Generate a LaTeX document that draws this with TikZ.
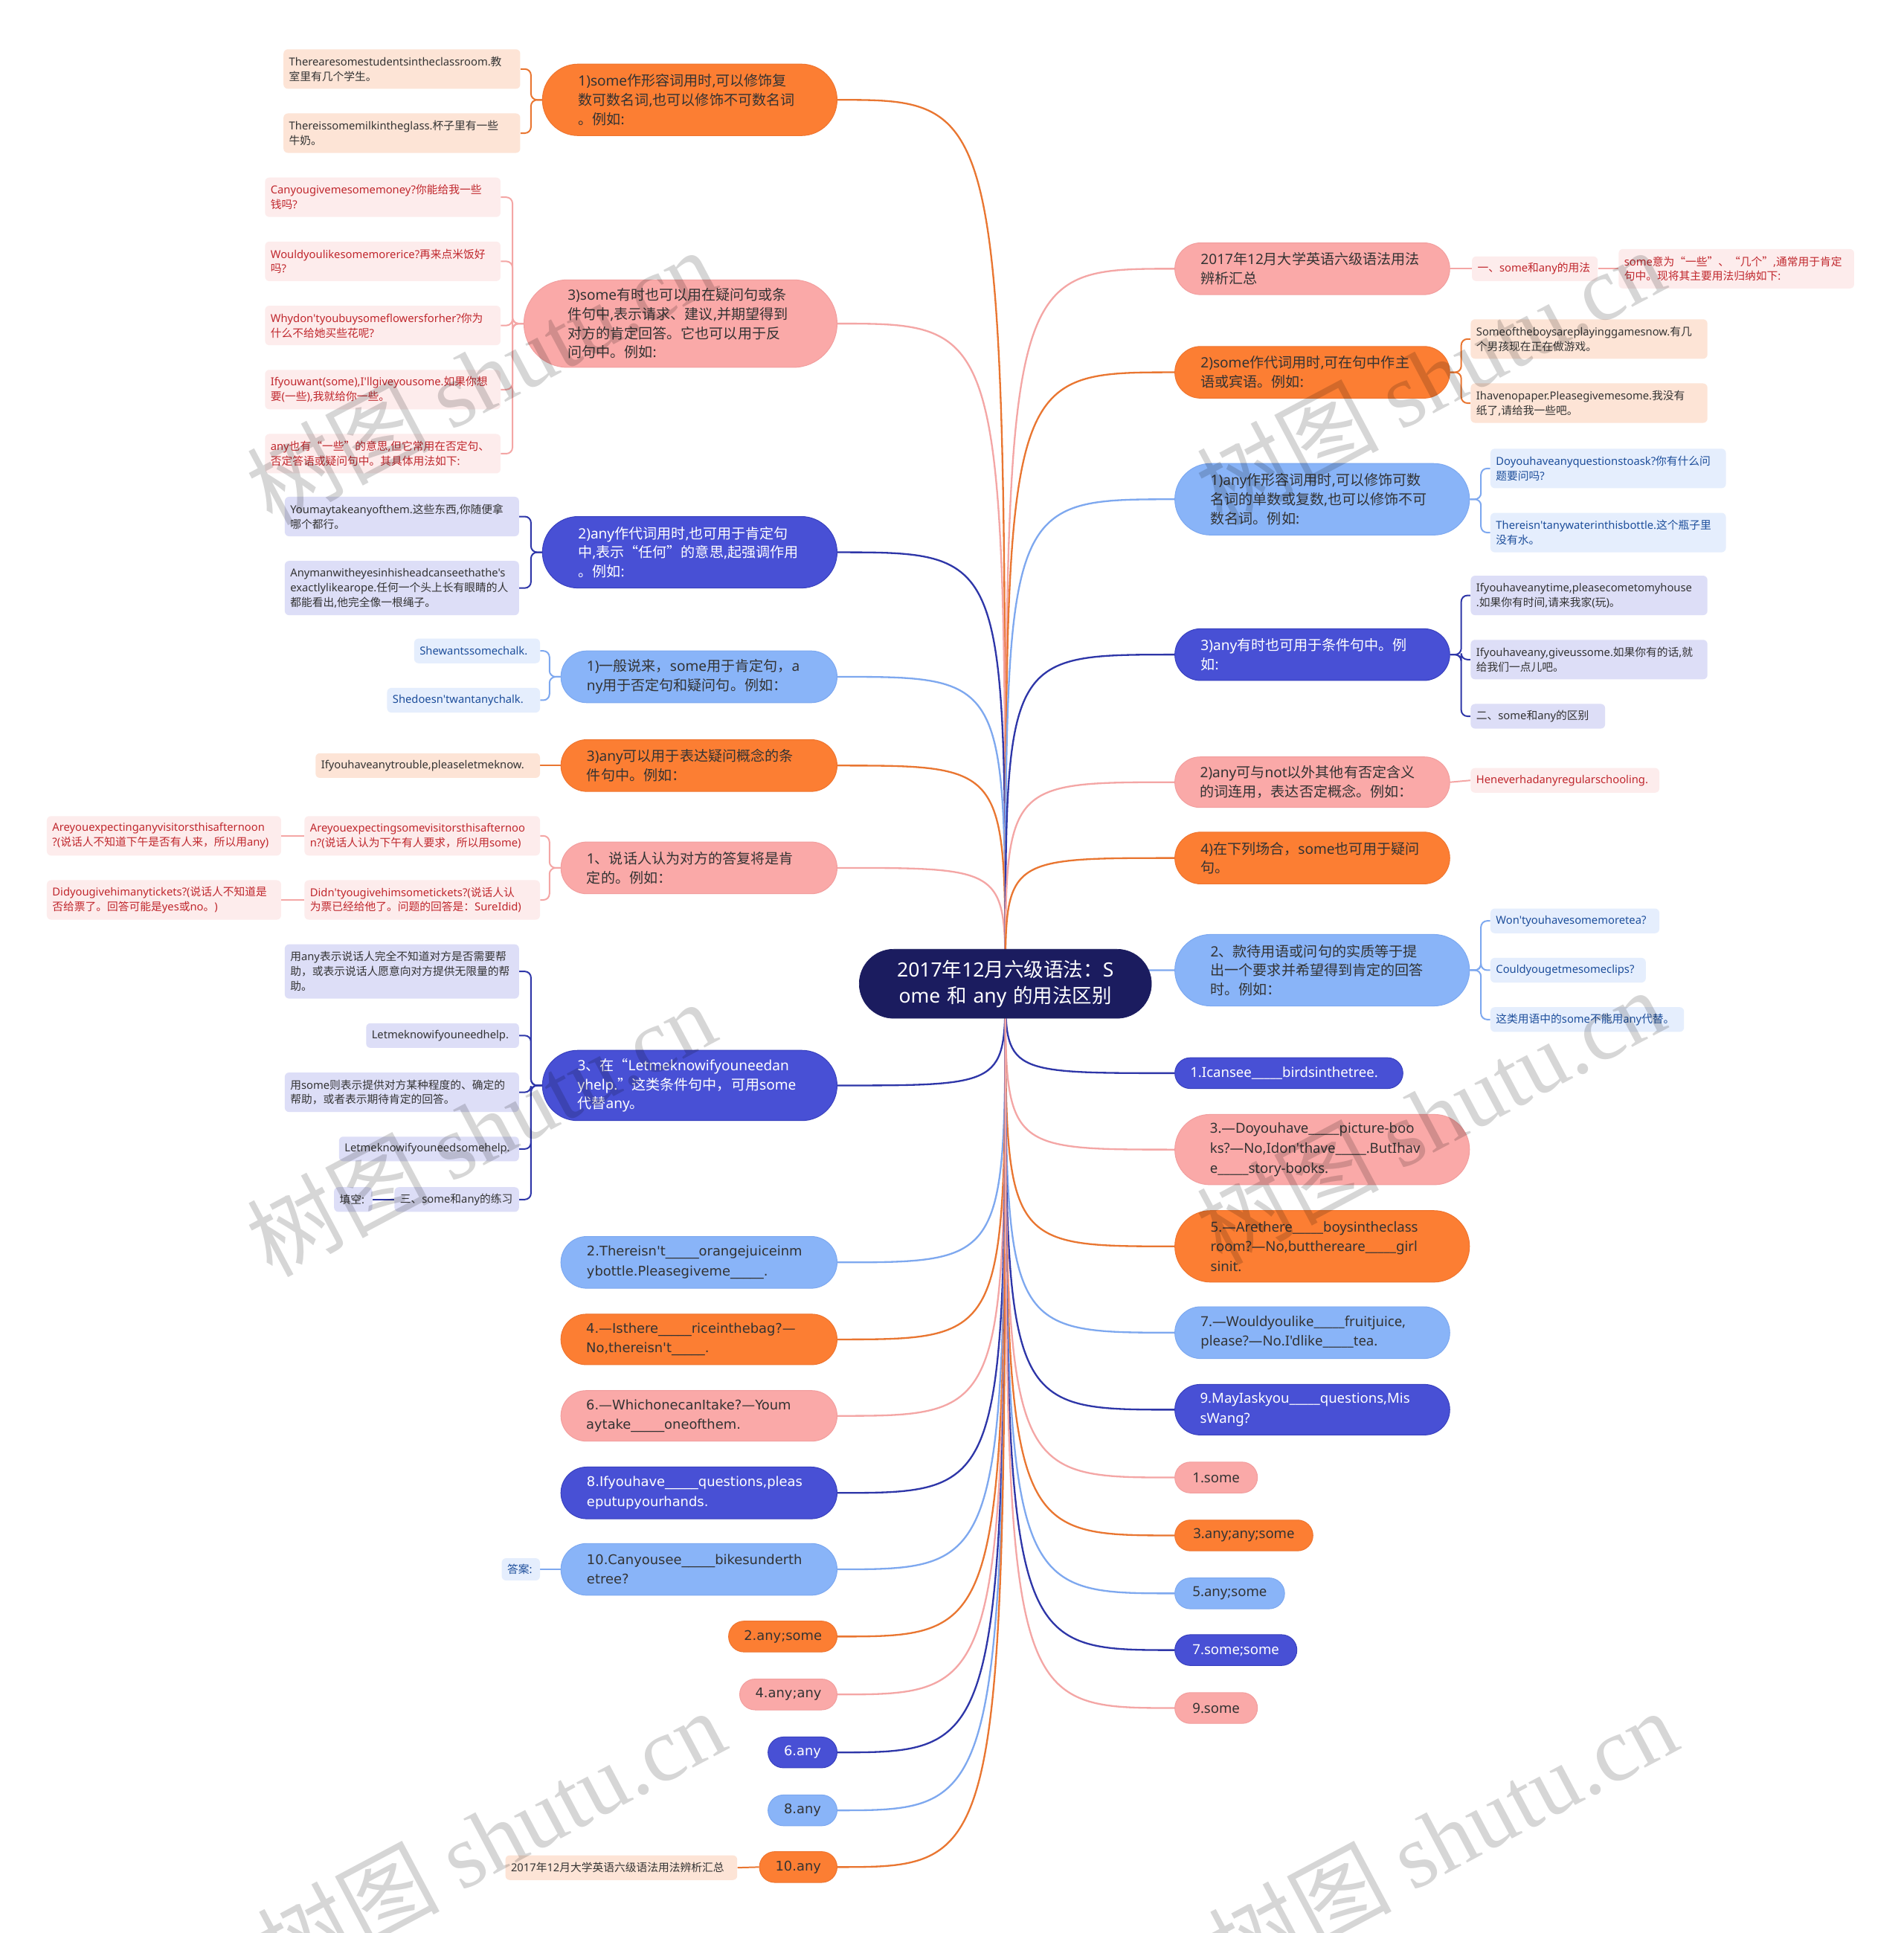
\documentclass[tikz,border=0pt]{standalone}
\usepackage{fontspec}
\setmainfont{Noto Sans CJK SC}
\newfontfamily\cjkf{Noto Sans CJK SC}
\newfontfamily\latf{Noto Sans}
\newfontfamily\verdf{DejaVu Sans}
\newfontfamily\wmf{Liberation Serif}
\usetikzlibrary{calc}
\hyphenpenalty=10000
\exhyphenpenalty=10000
\newcount\cjkc
\cjkc="4E00
\loop\XeTeXcharclass\cjkc=1 \advance\cjkc by 1 \ifnum\cjkc<"A000 \repeat
\XeTeXcharclass"3001=3
\XeTeXcharclass"3002=3
\XeTeXcharclass"FF0C=3
\XeTeXcharclass"FF1A=3
\XeTeXcharclass"201C=2
\XeTeXcharclass"201D=3
\XeTeXinterchartokenstate=1
\XeTeXinterchartoks 0 1 = {\cjkf}
\XeTeXinterchartoks 0 2 = {\cjkf}
\XeTeXinterchartoks 0 3 = {\cjkf}
\XeTeXinterchartoks 4095 1 = {\cjkf}
\XeTeXinterchartoks 4095 2 = {\cjkf}
\XeTeXinterchartoks 4095 3 = {\cjkf}
\XeTeXinterchartoks 1 0 = {\latf}
\XeTeXinterchartoks 2 0 = {\latf}
\XeTeXinterchartoks 3 0 = {\latf}
\XeTeXinterchartoks 4095 0 = {\latf}

\definecolor{cOr}{HTML}{FC7E33}
\definecolor{cOrD}{HTML}{EE7530}
\definecolor{lOr}{HTML}{E97631}
\definecolor{cPk}{HTML}{FAA9A8}
\definecolor{cPkD}{HTML}{F29E9E}
\definecolor{lPk}{HTML}{F4A6A5}
\definecolor{cLb}{HTML}{89B4F8}
\definecolor{cLbD}{HTML}{7CA8F0}
\definecolor{lLb}{HTML}{7EA8EF}
\definecolor{cDb}{HTML}{4850D5}
\definecolor{cDbD}{HTML}{3840BE}
\definecolor{lDb}{HTML}{2E36A8}
\definecolor{cCt}{HTML}{1B1C5F}
\definecolor{fOr}{HTML}{FDE4D6}
\definecolor{fPk}{HTML}{FDECEC}
\definecolor{fLb}{HTML}{E5EEFD}
\definecolor{fDb}{HTML}{DDDEF7}
\definecolor{tPk}{HTML}{C0272D}
\definecolor{tLb}{HTML}{1D4E9B}
\definecolor{tDk}{HTML}{333333}

\newcommand\fMain{\fontsize{11.5pt}{15.5pt}\selectfont}
\newcommand\fCtr{\fontsize{16pt}{21pt}\selectfont}
\newcommand\fLeaf{\fontsize{8.9pt}{12pt}\selectfont}
\newcommand\fExL{\XeTeXinterchartokenstate=0 \verdf\fontsize{10.8pt}{16pt}\selectfont}
\newcommand\fExR{\XeTeXinterchartokenstate=0 \latf\fontsize{11.2pt}{16pt}\selectfont}
\newcommand\fWm{\XeTeXinterchartokenstate=0 \fontsize{74pt}{74pt}\selectfont}
\newcommand\myblank{\_\_\_\_\_}

\pgfdeclarelayer{bg}
\pgfdeclarelayer{fg}
\pgfsetlayers{bg,main,fg}

\tikzset{
 pbase/.style={align=left, text=tDk, font=\fMain},
 por/.style={fill=cOr, draw=cOrD, line width=0.6pt},
 ppk/.style={fill=cPk, draw=cPkD, line width=0.6pt},
 plb/.style={fill=cLb, draw=cLbD, line width=0.6pt},
 pdb/.style={fill=cDb, draw=cDbD, line width=0.6pt, text=white},
 ctr/.style={fill=cCt, draw=cCt, text=white, align=center, font=\fCtr},
 exl/.style={font=\fExL},
 exr/.style={font=\fExR},
 small/.style={align=center},
 lbase/.style={align=left, font=\fLeaf},
 lor/.style={fill=fOr, text=tDk},
 lpk/.style={fill=fPk, text=tPk},
 llb/.style={fill=fLb, text=tLb},
 ldb/.style={fill=fDb, text=tDk},
 conn/.style={line width=1.4pt},
 bk/.style={line width=1.2pt, rounded corners=5pt},
 wm/.style={rotate=28, text=black, text opacity=0.16, font=\fWm, inner sep=0pt},
}

% pill node: name, x1, y1, x2, y2, style, text
\newcommand\pilln[7]{%
 \pgfmathsetmacro\pnw{#4-#2}\pgfmathsetmacro\pnh{#5-#3}%
 \pgfmathsetmacro\pnr{\pnh/2}\pgfmathsetmacro\pnt{\pnw-\pnh}%
 \node[pbase, #6, minimum width=\pnw pt, minimum height=\pnh pt, rounded corners=\pnr pt, inner xsep=\pnr pt, inner ysep=0pt, text width=\pnt pt] (#1) at ({(#2+#4)/2},{(#3+#5)/2}) {#7};}
% leaf node
\newcommand\leafn[7]{%
 \pgfmathsetmacro\pnw{#4-#2}\pgfmathsetmacro\pnh{#5-#3}\pgfmathsetmacro\pnt{\pnw-9}%
 \node[lbase, #6, minimum width=\pnw pt, minimum height=\pnh pt, rounded corners=3.5pt, inner xsep=4.5pt, inner ysep=0pt, text width=\pnt pt] (#1) at ({(#2+#4)/2},{(#3+#5)/2}) {#7};}

\begin{document}
\begin{tikzpicture}[x=1pt,y=-1pt]
\begin{pgfonlayer}{bg}
\fill[white] (0,0) rectangle (1544,1568);
\end{pgfonlayer}
\useasboundingbox (0,0) rectangle (1544,1568);

% center
\pilln{c}{697}{770}{934}{826}{ctr}{2017年12月六级语法：S\\ome 和 any 的用法区别}

% left main nodes
\pilln{L1}{440}{52}{679}{110}{por}{1)some作形容词用时,可以修饰复\\数可数名词,也可以修饰不可数名词\\。例如:}
\pilln{L2}{425}{227}{679}{298}{ppk}{3)some有时也可以用在疑问句或条\\件句中,表示请求、建议,并期望得到\\对方的肯定回答。它也可以用于反\\问句中。例如:}
\pilln{L3}{440}{419}{679}{477}{pdb}{2)any作代词用时,也可用于肯定句\\中,表示“任何”的意思,起强调作用\\。例如:}
\pilln{L4}{455}{528}{679}{570}{plb}{1)一般说来，some用于肯定句，a\\ny用于否定句和疑问句。例如：}
\pilln{L5}{455}{600}{679}{642}{por}{3)any可以用于表达疑问概念的条\\件句中。例如：}
\pilln{L6}{455}{683}{679}{725}{ppk}{1、说话人认为对方的答复将是肯\\定的。例如：}
\pilln{L7}{440}{852}{679}{909}{pdb}{3、在“Letmeknowifyouneedan\\yhelp.”这类条件句中，可用some\\代替any。}
\pilln{L8}{455}{1003}{679}{1045}{plb,exl}{2.Thereisn't\myblank orangejuiceinm\\ybottle.Pleasegiveme\myblank.}
\pilln{L9}{455}{1066}{679}{1107}{por,exl}{4.—Isthere\myblank riceinthebag?—\\No,thereisn't\myblank.}
\pilln{L10}{455}{1128}{679}{1169}{ppk,exl}{6.—WhichonecanItake?—Youm\\aytake\myblank oneofthem.}
\pilln{L11}{455}{1190}{679}{1232}{pdb,exl}{8.Ifyouhave\myblank questions,pleas\\eputupyourhands.}
\pilln{L12}{455}{1252}{679}{1294}{plb,exl}{10.Canyousee\myblank bikesunderth\\etree?}
\pilln{L13}{591}{1315}{679}{1340}{por,exl,small}{2.any;some}
\pilln{L14}{600}{1362}{679}{1387}{ppk,exl,small}{4.any;any}
\pilln{L15}{623}{1409}{679}{1434}{pdb,exl,small}{6.any}
\pilln{L16}{623}{1456}{679}{1481}{plb,exl,small}{8.any}
\pilln{L17}{616}{1502}{679}{1527}{por,exl,small}{10.any}

% right main nodes
\pilln{R1}{953}{197}{1176}{239}{ppk}{2017年12月大学英语六级语法用法\\辨析汇总}
\pilln{R2}{953}{281}{1176}{323}{por}{2)some作代词用时,可在句中作主\\语或宾语。例如:}
\pilln{R3}{953}{376}{1192}{434}{plb}{1)any作形容词用时,可以修饰可数\\名词的单数或复数,也可以修饰不可\\数名词。例如:}
\pilln{R4}{953}{510}{1176}{552}{pdb}{3)any有时也可用于条件句中。例\\如:}
\pilln{R5}{953}{614}{1176}{655}{ppk}{2)any可与not以外其他有否定含义\\的词连用，表达否定概念。例如：}
\pilln{R6}{953}{675}{1176}{717}{por}{4)在下列场合，some也可用于疑问\\句。}
\pilln{R7}{953}{758}{1192}{816}{plb}{2、款待用语或问句的实质等于提\\出一个要求并希望得到肯定的回答\\时。例如：}
\pilln{R8}{953}{858}{1138}{883}{pdb,exr}{1.Icansee\myblank birdsinthetree.}
\pilln{R9}{953}{904}{1192}{961}{ppk,exr}{3.—Doyouhave\myblank picture-boo\\ks?—No,Idon'thave\myblank.ButIhav\\e\myblank story-books.}
\pilln{R10}{953}{982}{1192}{1040}{por,exr}{5.—Arethere\myblank boysintheclass\\room?—No,butthereare\myblank girl\\sinit.}
\pilln{R11}{953}{1060}{1176}{1102}{plb,exr}{7.—Wouldyoulike\myblank fruitjuice,\\please?—No.I'dlike\myblank tea.}
\pilln{R12}{953}{1123}{1176}{1164}{pdb,exr}{9.MayIaskyou\myblank questions,Mis\\sWang?}
\pilln{R13}{953}{1186}{1020}{1211}{ppk,exr,small}{1.some}
\pilln{R14}{953}{1233}{1065}{1258}{por,exr,small}{3.any;any;some}
\pilln{R15}{953}{1280}{1042}{1305}{plb,exr,small}{5.any;some}
\pilln{R16}{953}{1326}{1052}{1351}{pdb,exr,small}{7.some;some}
\pilln{R17}{953}{1373}{1020}{1398}{ppk,exr,small}{9.some}

% left leaves
\leafn{L1a}{230}{40}{422}{72}{lor}{Therearesomestudentsintheclassroom.教\\室里有几个学生。}
\leafn{L1b}{230}{92}{422}{124}{lor}{Thereissomemilkintheglass.杯子里有一些\\牛奶。}
\leafn{L2a}{215}{144}{406}{176}{lpk}{Canyougivemesomemoney?你能给我一些\\钱吗?}
\leafn{L2b}{215}{196}{406}{228}{lpk}{Wouldyoulikesomemorerice?再来点米饭好\\吗?}
\leafn{L2c}{215}{248}{406}{280}{lpk}{Whydon'tyoubuysomeflowersforher?你为\\什么不给她买些花呢?}
\leafn{L2d}{215}{300}{406}{332}{lpk}{Ifyouwant(some),I'llgiveyousome.如果你想\\要(一些),我就给你一些。}
\leafn{L2e}{215}{352}{406}{384}{lpk}{any也有“一些”的意思,但它常用在否定句、\\否定答语或疑问句中。其具体用法如下:}
\leafn{L3a}{231}{403}{421}{435}{ldb}{Youmaytakeanyofthem.这些东西,你随便拿\\哪个都行。}
\leafn{L3b}{231}{455}{421}{499}{ldb}{Anymanwitheyesinhisheadcanseethathe's\\exactlylikearope.任何一个头上长有眼睛的人\\都能看出,他完全像一根绳子。}
\leafn{L4a}{336}{518}{438}{538}{llb}{Shewantssomechalk.}
\leafn{L4b}{314}{558}{438}{578}{llb}{Shedoesn'twantanychalk.}
\leafn{L5a}{256}{611}{438}{631}{lor}{Ifyouhaveanytrouble,pleaseletmeknow.}
\leafn{L6a}{247}{662}{438}{694}{lpk}{Areyouexpectingsomevisitorsthisafternoo\\n?(说话人认为下午有人要求，所以用some)}
\leafn{L6b}{247}{714}{438}{746}{lpk}{Didn'tyougivehimsometickets?(说话人认\\为票已经给他了。问题的回答是：SureIdid)}
\leafn{L6c}{38}{662}{228}{694}{lpk}{Areyouexpectinganyvisitorsthisafternoon\\?(说话人不知道下午是否有人来，所以用any)}
\leafn{L6d}{38}{714}{228}{746}{lpk}{Didyougivehimanytickets?(说话人不知道是\\否给票了。回答可能是yes或no。)}
\leafn{L7a}{231}{766}{421}{810}{ldb}{用any表示说话人完全不知道对方是否需要帮\\助，或表示说话人愿意向对方提供无限量的帮\\助。}
\leafn{L7b}{297}{830}{421}{850}{ldb}{Letmeknowifyouneedhelp.}
\leafn{L7c}{231}{870}{421}{902}{ldb}{用some则表示提供对方某种程度的、确定的\\帮助，或者表示期待肯定的回答。}
\leafn{L7d}{275}{922}{421}{942}{ldb}{Letmeknowifyouneedsomehelp.}
\leafn{L7e}{320}{963}{421}{983}{ldb}{三、some和any的练习}
\leafn{L7f}{271}{963}{302}{983}{ldb}{填空:}
\leafn{L12a}{407}{1264}{438}{1282}{llb}{答案:}
\leafn{L17a}{410}{1505}{598}{1525}{lor}{2017年12月大学英语六级语法用法辨析汇总}

% right leaves
\leafn{R1a}{1194}{208}{1296}{228}{lpk}{一、some和any的用法}
\leafn{R1b}{1313}{202}{1504}{234}{lpk}{some意为“一些”、“几个”,通常用于肯定\\句中。现将其主要用法归纳如下:}
\leafn{R2a}{1193}{259}{1385}{291}{lor}{Someoftheboysareplayinggamesnow.有几\\个男孩现在正在做游戏。}
\leafn{R2b}{1193}{311}{1385}{343}{lor}{Ihavenopaper.Pleasegivemesome.我没有\\纸了,请给我一些吧。}
\leafn{R3a}{1209}{364}{1400}{396}{llb}{Doyouhaveanyquestionstoask?你有什么问\\题要问吗?}
\leafn{R3b}{1209}{416}{1400}{448}{llb}{Thereisn'tanywaterinthisbottle.这个瓶子里\\没有水。}
\leafn{R4a}{1193}{467}{1385}{499}{ldb}{Ifyouhaveanytime,pleasecometomyhouse\\.如果你有时间,请来我家(玩)。}
\leafn{R4b}{1193}{519}{1385}{551}{ldb}{Ifyouhaveany,giveussome.如果你有的话,就\\给我们一点儿吧。}
\leafn{R4c}{1193}{571}{1302}{591}{ldb}{二、some和any的区别}
\leafn{R5a}{1193}{623}{1346}{643}{lpk}{Heneverhadanyregularschooling.}
\leafn{R7a}{1209}{737}{1346}{757}{llb}{Won'tyouhavesomemoretea?}
\leafn{R7b}{1209}{777}{1335}{797}{llb}{Couldyougetmesomeclips?}
\leafn{R7c}{1209}{817}{1366}{837}{llb}{这类用语中的some不能用any代替。}

\begin{pgfonlayer}{bg}
% main connectors
\foreach \n/\col in {L1/lOr, L2/lPk, L3/lDb, L4/lLb, L5/lOr, L6/lPk, L7/lDb, L8/lLb, L9/lOr, L10/lPk, L11/lDb, L12/lLb, L13/lOr, L14/lPk, L15/lDb, L16/lLb, L17/lOr}
  \draw[conn, \col] (c.center) .. controls (c.center |- \n.east) .. (\n.east);
\foreach \n/\col in {R1/lPk, R2/lOr, R3/lLb, R4/lDb, R5/lPk, R6/lOr, R7/lLb, R8/lDb, R9/lPk, R10/lOr, R11/lLb, R12/lDb, R13/lPk, R14/lOr, R15/lLb, R16/lDb, R17/lPk}
  \draw[conn, \col] (c.center) .. controls (c.center |- \n.west) .. (\n.west);
% left brackets
\foreach \p/\ch/\col in {L1/L1a/lOr, L1/L1b/lOr, L2/L2a/lPk, L2/L2b/lPk, L2/L2c/lPk, L2/L2d/lPk, L2/L2e/lPk, L3/L3a/lDb, L3/L3b/lDb, L4/L4a/lLb, L4/L4b/lLb, L6/L6a/lPk, L6/L6b/lPk, L7/L7a/lDb, L7/L7b/lDb, L7/L7c/lDb, L7/L7d/lDb, L7/L7e/lDb}
  \draw[bk, \col] (\p.west) -- ++(-9,0) |- (\ch.east);
% right brackets
\foreach \p/\ch/\col in {R2/R2a/lOr, R2/R2b/lOr, R3/R3a/lLb, R3/R3b/lLb, R4/R4a/lDb, R4/R4b/lDb, R4/R4c/lDb, R7/R7a/lLb, R7/R7b/lLb, R7/R7c/lLb}
  \draw[bk, \col] (\p.east) -- ++(9,0) |- (\ch.west);
% straight links
\draw[bk, lOr] (L5.west) -- (L5a.east);
\draw[bk, lPk] (L6a.west) -- (L6c.east);
\draw[bk, lPk] (L6b.west) -- (L6d.east);
\draw[bk, lDb] (L7e.west) -- (L7f.east);
\draw[bk, lLb] (L12.west) -- (L12a.east);
\draw[bk, lOr] (L17.west) -- (L17a.east);
\draw[bk, lPk] (R1.east) -- (R1a.west);
\draw[bk, lPk] (R1a.east) -- (R1b.west);
\draw[bk, lPk] (R5.east) -- (R5a.west);
\end{pgfonlayer}

\begin{pgfonlayer}{fg}
\foreach \i/\x/\y in {1/390/305, 2/390/915, 3/398/1490, 4/1160/305, 5/1160/905, 6/1170/1490}
  \node[wm] (wm\i) at (\x,\y) {{\cjkf 树图} {\wmf shutu.cn}};
\end{pgfonlayer}
\end{tikzpicture}
\end{document}
